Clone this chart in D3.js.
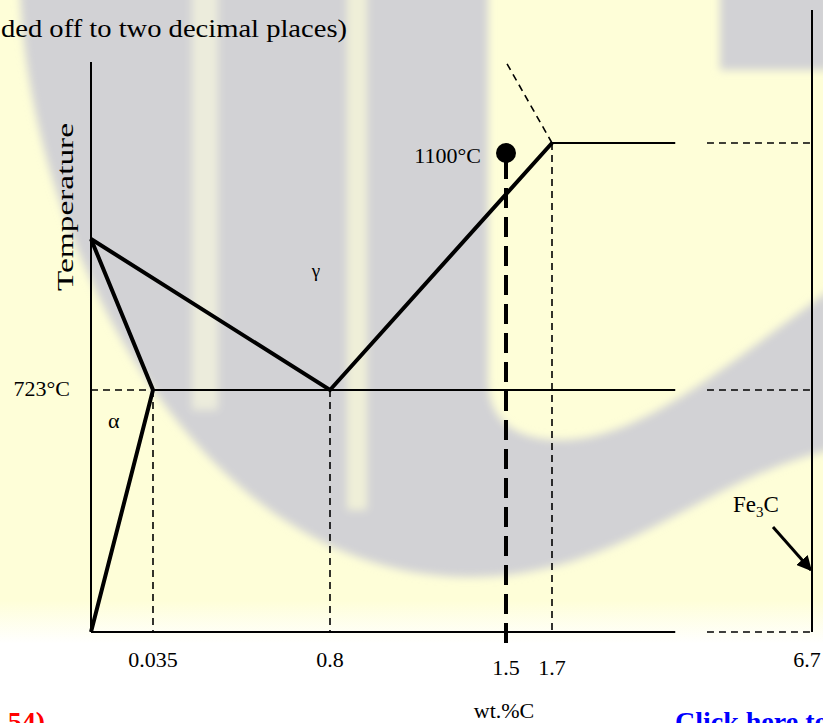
<!DOCTYPE html>
<html>
<head>
<meta charset="utf-8">
<script src="https://cdn.jsdelivr.net/npm/d3@7"></script>
<style>
  body { margin: 0; background: #fff; }
  text { font-family: "Liberation Serif", "Times New Roman", serif; fill: #000; }
</style>
</head>
<body>
<script>
// wt.% carbon positions on the (schematic, broken) axis
var carbonTicks = [0.035, 0.8, 1.5, 1.7, 6.7];
var tickLabels = ["0.035", "0.8", "1.5", "1.7", "6.7"];
var breakStart = 4.07, breakEnd = 4.68;

// temperatures (°C) used by the schematic
var eutectoidT = 723, a3T = 910, alloyT = 1100, eutecticT = 1147, axisTopT = 1400, fe3cTopT = 1600;
var alloyC = 1.5;

// thick phase boundaries [wt.%C, °C]
var alphaBoundary = [[0, a3T], [0.035, eutectoidT], [0, 0]];
var gammaBoundary = [[0, a3T], [0.8, eutectoidT], [1.7, eutecticT]];
// thin solid / dashed lines
var solidLines = [
  [[0.035, eutectoidT], [breakStart, eutectoidT]],
  [[1.7, eutecticT], [breakStart, eutecticT]]
];
var dashedLines = [
  [[0, eutectoidT], [0.035, eutectoidT]],
  [[breakEnd, eutectoidT], [6.7, eutectoidT]],
  [[breakEnd, eutecticT], [6.7, eutecticT]],
  [[breakEnd, 0], [6.7, 0]],
  [[0.035, eutectoidT], [0.035, 0]],
  [[0.8, eutectoidT], [0.8, 0]],
  [[1.7, eutecticT], [1.7, 0]],
  [[1.7, eutecticT], [1.5, axisTopT]]
];
var axisLines = [
  [[0, 0], [breakStart, 0]],
  [[0, 0], [0, axisTopT]],
  [[6.7, 0], [6.7, fe3cTopT]]
];
var alloyLine = [[alloyC, alloyT], [alloyC, -33]];
var fe3cArrow = [[5.95, 314], [6.68, 185]];

var width = 823, height = 723;
var margin = {left: 91, top: 0};

// piecewise scales, the diagram is not to scale
var x = d3.scaleLinear()
    .domain([0, 0.035, 0.8, 1.5, 1.7, 6.7])
    .range([0, 62, 239, 415, 461, 721]);
var y = d3.scaleLinear()
    .domain([0, 723, 910, 1100, 1147, 1400, 1600])
    .range([632, 390, 239, 153, 143, 62, 10]);

var line = d3.line()
    .x(function(d) { return x(d[0]); })
    .y(function(d) { return y(d[1]); });

var svg = d3.select("body").append("svg")
    .attr("width", width)
    .attr("height", height);

// ---- faded watermark background ----
var defs = svg.append("defs");
defs.append("filter").attr("id", "blur")
    .attr("x", "-10%").attr("y", "-10%").attr("width", "120%").attr("height", "120%")
  .append("feGaussianBlur").attr("stdDeviation", 4);
var grad = defs.append("linearGradient").attr("id", "fade")
    .attr("x1", 0).attr("y1", 0).attr("x2", 0).attr("y2", 1);
grad.append("stop").attr("offset", "0.83").attr("stop-color", "#fefed8");
grad.append("stop").attr("offset", "0.89").attr("stop-color", "#ffffff");

svg.append("rect").attr("width", width).attr("height", height).attr("fill", "url(#fade)");

var bg = svg.append("g").attr("filter", "url(#blur)");
bg.append("path")
    .attr("fill", "#d2d2d5")
    .attr("d", "M20,-10 C30,250 200,577 470,577 C620,577 700,480 830,450 L830,290 " +
               "C720,370 640,440 560,440 C515,440 488,420 488,380 L488,-10 Z");
bg.append("rect").attr("x", 720).attr("y", -10).attr("width", 110).attr("height", 80).attr("fill", "#d2d2d5");
bg.append("rect").attr("x", 192).attr("y", -10).attr("width", 26).attr("height", 420).attr("fill", "#ececdc");
bg.append("rect").attr("x", 347).attr("y", -10).attr("width", 20).attr("height", 520).attr("fill", "#f0f0d8");

// ---- diagram ----
var g = svg.append("g")
    .attr("transform", "translate(" + margin.left + "," + margin.top + ")");

g.selectAll(".axisline")
    .data(axisLines)
  .enter().append("path")
    .attr("d", line)
    .attr("fill", "none")
    .attr("stroke", "#000")
    .attr("stroke-width", 2);

g.selectAll(".solid")
    .data(solidLines)
  .enter().append("path")
    .attr("d", line)
    .attr("fill", "none")
    .attr("stroke", "#000")
    .attr("stroke-width", 2);

g.selectAll(".dashed")
    .data(dashedLines)
  .enter().append("path")
    .attr("d", line)
    .attr("fill", "none")
    .attr("stroke", "#000")
    .attr("stroke-width", 1.6)
    .attr("stroke-dasharray", "7,5");

g.selectAll(".boundary")
    .data([alphaBoundary, gammaBoundary])
  .enter().append("path")
    .attr("d", line)
    .attr("fill", "none")
    .attr("stroke", "#000")
    .attr("stroke-width", 4)
    .attr("stroke-linejoin", "miter");

// alloy composition line and the 1100°C point
g.append("path")
    .datum(alloyLine)
    .attr("d", line)
    .attr("fill", "none")
    .attr("stroke", "#000")
    .attr("stroke-width", 4)
    .attr("stroke-dasharray", "20,9")
    .attr("stroke-dashoffset", -6);

g.append("circle")
    .attr("cx", x(alloyC))
    .attr("cy", y(alloyT))
    .attr("r", 10)
    .attr("fill", "#000");

g.append("text")
    .attr("x", x(alloyC) - 25)
    .attr("y", y(alloyT) + 10)
    .attr("text-anchor", "end")
    .style("font-size", "22px")
    .text("1100°C");

// arrow to Fe3C line
defs.append("marker").attr("id", "head")
    .attr("viewBox", "0 0 10 10").attr("refX", 9).attr("refY", 5)
    .attr("markerWidth", 5).attr("markerHeight", 5).attr("orient", "auto")
  .append("path").attr("d", "M0,0 L10,5 L0,10 Z").attr("fill", "#000");

g.append("path")
    .datum(fe3cArrow)
    .attr("d", line)
    .attr("stroke", "#000")
    .attr("stroke-width", 3)
    .attr("marker-end", "url(#head)");

var fe = g.append("text")
    .attr("x", x(fe3cArrow[0][0]) - 40)
    .attr("y", y(fe3cArrow[0][1]) - 15)
    .style("font-size", "23px");
fe.append("tspan").text("Fe");
fe.append("tspan").attr("dy", 5).style("font-size", "15px").text("3");
fe.append("tspan").attr("dy", -5).text("C");

// tick labels
g.selectAll(".tick")
    .data(carbonTicks)
  .enter().append("text")
    .attr("x", function(d) { return d === 6.7 ? x(d) - 5 : x(d); })
    .attr("y", function(d) { return (d === 1.5 || d === 1.7) ? 675 : 667; })
    .attr("text-anchor", "middle")
    .style("font-size", "22px")
    .text(function(d, i) { return tickLabels[i]; });

g.append("text")
    .attr("x", -21)
    .attr("y", y(eutectoidT) + 6)
    .attr("text-anchor", "end")
    .style("font-size", "22px")
    .text("723°C");

g.append("text")
    .attr("x", x(0.035) - 45)
    .attr("y", y(eutectoidT) + 38)
    .style("font-size", "22px")
    .text("α");

g.append("text")
    .attr("x", x(0.8) - 14)
    .attr("y", y(a3T) + 38)
    .attr("text-anchor", "middle")
    .style("font-size", "19px")
    .text("γ");

g.append("text")
    .attr("transform", "translate(-18,207) rotate(-90)")
    .attr("text-anchor", "middle")
    .attr("textLength", 168)
    .attr("lengthAdjust", "spacingAndGlyphs")
    .style("font-size", "24px")
    .text("Temperature");

g.append("text")
    .attr("x", x(alloyC) - 2)
    .attr("y", 718)
    .attr("text-anchor", "middle")
    .style("font-size", "22px")
    .text("wt.%C");

// page fragments around the figure
svg.append("text")
    .attr("x", 347)
    .attr("y", 37)
    .attr("text-anchor", "end")
    .attr("textLength", 346)
    .attr("lengthAdjust", "spacingAndGlyphs")
    .style("font-size", "25px")
    .text("ded off to two decimal places)");

svg.append("text")
    .attr("x", 45)
    .attr("y", 731)
    .attr("text-anchor", "end")
    .style("font-size", "28px")
    .style("font-weight", "bold")
    .style("fill", "#ff0000")
    .text("54)");

svg.append("text")
    .attr("x", 675)
    .attr("y", 731)
    .style("font-size", "28px")
    .style("font-weight", "bold")
    .style("fill", "#0000ff")
    .text("Click here to");
</script>
</body>
</html>
